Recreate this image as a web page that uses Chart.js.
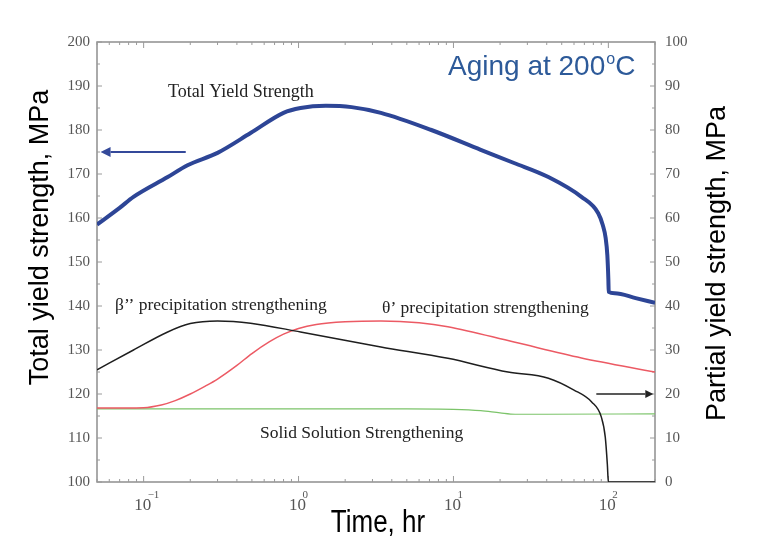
<!DOCTYPE html>
<html><head><meta charset="utf-8">
<script src="https://cdn.jsdelivr.net/npm/chart.js@4"></script>
<style>html,body{margin:0;padding:0;background:#fff}</style>
</head><body>
<canvas id="c" width="761" height="547"></canvas>
<script>
// ---- data (time in hours, strengths in MPa) ----
const timeTotal = [0.05, 0.07, 0.086, 0.143, 0.192, 0.30, 0.49, 0.80, 1.03, 1.5, 2.2, 3.4, 7.2, 15, 24.6, 41, 67, 86, 92, 96, 98.5, 100, 100.5, 110, 150, 200];
const totalStrength = [158.5, 162.3, 164.8, 169.3, 172, 174.8, 179.3, 183.9, 185, 185.5, 185.2, 183.9, 180, 175.5, 172.5, 169.3, 164.8, 161.1, 158.4, 155.5, 151.5, 146, 143.2, 142.9, 141.8, 140.7];

const timeBeta = [0.05, 0.086, 0.143, 0.2, 0.30, 0.49, 1.03, 3.4, 9.2, 22.5, 41, 60, 78, 90, 95.5, 98.5, 100, 200];
const betaStrength = [25.5, 30, 34.1, 36.0, 36.6, 36.1, 34.1, 30.7, 28.1, 25, 23.6, 20.9, 18.2, 14.8, 10.2, 4, 0, 0];

const timeTheta = [0.05, 0.1, 0.13, 0.16, 0.2, 0.25, 0.3, 0.4, 0.5, 0.65, 0.8, 1.0, 1.3, 2.0, 3.4, 6, 9.2, 24.6, 67, 200];
const thetaStrength = [16.8, 16.9, 17.5, 18.5, 20, 21.8, 23.4, 26.5, 29.2, 31.9, 33.6, 34.9, 35.8, 36.4, 36.6, 36.2, 35.3, 31.8, 28.2, 25];

const timeSolid = [0.05, 1, 5, 10, 15, 20, 25, 40, 200];
const solidStrength = [16.6, 16.6, 16.6, 16.5, 16.2, 15.7, 15.4, 15.4, 15.5];

const xDecades = [0.1, 1, 10, 100];
const xExponents = ['\u22121', '0', '1', '2'];

// arrows in data coordinates
const blueArrow = {from: 0.187, to: 0.0527, y: 175};   // left axis
const blackArrow = {from: 83.6, to: 195, y: 20};      // right axis

const pts = (xs, ys) => xs.map((x, i) => ({x: x, y: ys[i]}));

const overlay = {
  id: 'overlay',
  beforeDatasetsDraw(chart) {
    const {ctx, chartArea: a, scales} = chart;
    const line = (x1, y1, x2, y2) => { ctx.beginPath(); ctx.moveTo(x1, y1); ctx.lineTo(x2, y2); ctx.stroke(); };
    ctx.save();
    ctx.strokeStyle = '#8e8e8e'; ctx.lineWidth = 1.5;
    ctx.strokeRect(a.left, a.top, a.right - a.left, a.bottom - a.top);
    ctx.lineWidth = 1; ctx.strokeStyle = '#9a9a9a';
    for (let e = -2; e <= 2; e++) {
      for (let m = 1; m <= 9; m++) {
        const v = m * Math.pow(10, e);
        if (v < 0.05 - 1e-9 || v > 200 + 1e-9) continue;
        const px = scales.x.getPixelForValue(v);
        const L = m === 1 ? 6 : 3;
        line(px, a.bottom, px, a.bottom - L);
        line(px, a.top, px, a.top + L);
      }
    }
    for (let v = 100; v <= 200; v += 5) {
      const py = scales.y.getPixelForValue(v);
      line(a.left, py, a.left + (v % 10 === 0 ? 5 : 3), py);
    }
    for (let v = 0; v <= 100; v += 5) {
      const py = scales.y2.getPixelForValue(v);
      line(a.right, py, a.right - (v % 10 === 0 ? 5 : 3), py);
    }
    ctx.restore();
  },
  afterDraw(chart) {
    const {ctx, chartArea: a, scales} = chart;
    ctx.save();
    // x tick labels 10^n
    xDecades.forEach((v, i) => {
      const px = scales.x.getPixelForValue(v);
      ctx.fillStyle = '#555';
      ctx.font = '17px "Liberation Serif", "Times New Roman", serif';
      ctx.textAlign = 'center'; ctx.textBaseline = 'alphabetic';
      ctx.fillText('10', px - 1, 510);
      ctx.font = '11px "Liberation Serif", "Times New Roman", serif';
      ctx.textAlign = 'left';
      ctx.fillText(xExponents[i], px + 4, 498);
    });
    // arrows
    const arrow = (x1, x2, y, color, w, head) => {
      ctx.strokeStyle = color; ctx.fillStyle = color; ctx.lineWidth = w;
      const dir = Math.sign(x2 - x1);
      ctx.beginPath(); ctx.moveTo(x1, y); ctx.lineTo(x2 - dir * head, y); ctx.stroke();
      ctx.beginPath(); ctx.moveTo(x2, y); ctx.lineTo(x2 - dir * head, y - head * 0.5); ctx.lineTo(x2 - dir * head, y + head * 0.5); ctx.closePath(); ctx.fill();
    };
    arrow(scales.x.getPixelForValue(blueArrow.from), scales.x.getPixelForValue(blueArrow.to), scales.y.getPixelForValue(blueArrow.y), '#34499a', 2, 10);
    arrow(scales.x.getPixelForValue(blackArrow.from), scales.x.getPixelForValue(blackArrow.to), scales.y2.getPixelForValue(blackArrow.y), '#222', 1.3, 8);

    // serif annotations
    ctx.fillStyle = '#222';
    ctx.textAlign = 'left'; ctx.textBaseline = 'alphabetic';
    ctx.font = '18px "Liberation Serif", "Times New Roman", serif';
    ctx.fillText('Total Yield Strength', 168, 97);
    ctx.font = '17.5px "Liberation Serif", "Times New Roman", serif';
    ctx.fillText('\u03B2\u2019\u2019 precipitation strengthening', 115, 310);
    ctx.fillText('\u03B8\u2019 precipitation strengthening', 382, 313);
    ctx.fillText('Solid Solution Strengthening', 260, 438);

    // Aging at 200 oC
    ctx.fillStyle = '#2d5a99';
    ctx.font = '28px "Liberation Sans", Arial, sans-serif';
    let x0 = 448;
    const t1 = 'Aging at 200';
    ctx.fillText(t1, x0, 75);
    x0 += ctx.measureText(t1).width + 1;
    ctx.font = '16px "Liberation Sans", Arial, sans-serif';
    ctx.fillText('o', x0, 64);
    x0 += ctx.measureText('o').width;
    ctx.font = '28px "Liberation Sans", Arial, sans-serif';
    ctx.fillText('C', x0, 75);

    // axis titles
    ctx.fillStyle = '#000';
    ctx.font = '27px "Liberation Sans", Arial, sans-serif';
    ctx.textAlign = 'center';
    ctx.save(); ctx.translate(47.5, 237.5); ctx.rotate(-Math.PI / 2);
    ctx.fillText('Total yield strength, MPa', 0, 0); ctx.restore();
    ctx.save(); ctx.translate(724.5, 263.5); ctx.rotate(-Math.PI / 2);
    ctx.fillText('Partial yield strength, MPa', 0, 0); ctx.restore();
    ctx.save(); ctx.translate(378, 532); ctx.scale(1, 1.2);
    ctx.font = '26px "Liberation Sans", Arial, sans-serif';
    ctx.fillText('Time, hr', 0, 0); ctx.restore();
    ctx.restore();
  }
};

const common = {pointRadius: 0, fill: false, cubicInterpolationMode: 'monotone'};
new Chart(document.getElementById('c'), {
  type: 'line',
  data: {
    datasets: [
      Object.assign({label: 'Total Yield Strength', data: pts(timeTotal, totalStrength), yAxisID: 'y', borderColor: '#2d4596', borderWidth: 4}, common),
      Object.assign({label: "\u03B2'' precipitation strengthening", data: pts(timeBeta, betaStrength), yAxisID: 'y2', borderColor: '#1e1e1e', borderWidth: 1.5}, common),
      Object.assign({label: "\u03B8' precipitation strengthening", data: pts(timeTheta, thetaStrength), yAxisID: 'y2', borderColor: '#ec5a64', borderWidth: 1.5}, common),
      Object.assign({label: 'Solid Solution Strengthening', data: pts(timeSolid, solidStrength), yAxisID: 'y2', borderColor: '#7cc46a', borderWidth: 1.2}, common)
    ]
  },
  options: {
    responsive: false, animation: false, devicePixelRatio: 1,
    layout: {padding: {top: 42, left: 0, right: 0, bottom: 0}},
    plugins: {legend: {display: false}, tooltip: {enabled: false}},
    scales: {
      x: {type: 'logarithmic', min: 0.05, max: 200, position: 'bottom',
          grid: {display: false, drawTicks: false}, border: {display: false},
          ticks: {display: false}, afterFit(s) { s.height = 65; }},
      y: {type: 'linear', min: 100, max: 200, position: 'left',
          grid: {display: false, drawTicks: false}, border: {display: false},
          ticks: {stepSize: 10, padding: 7, color: '#555', font: {family: '"Liberation Serif", "Times New Roman", serif', size: 15}},
          afterFit(s) { s.width = 97; }},
      y2: {type: 'linear', min: 0, max: 100, position: 'right',
          grid: {display: false, drawTicks: false}, border: {display: false},
          ticks: {stepSize: 10, padding: 10, color: '#555', font: {family: '"Liberation Serif", "Times New Roman", serif', size: 15}},
          afterFit(s) { s.width = 106; }}
    }
  },
  plugins: [overlay]
});
</script>
</body></html>
